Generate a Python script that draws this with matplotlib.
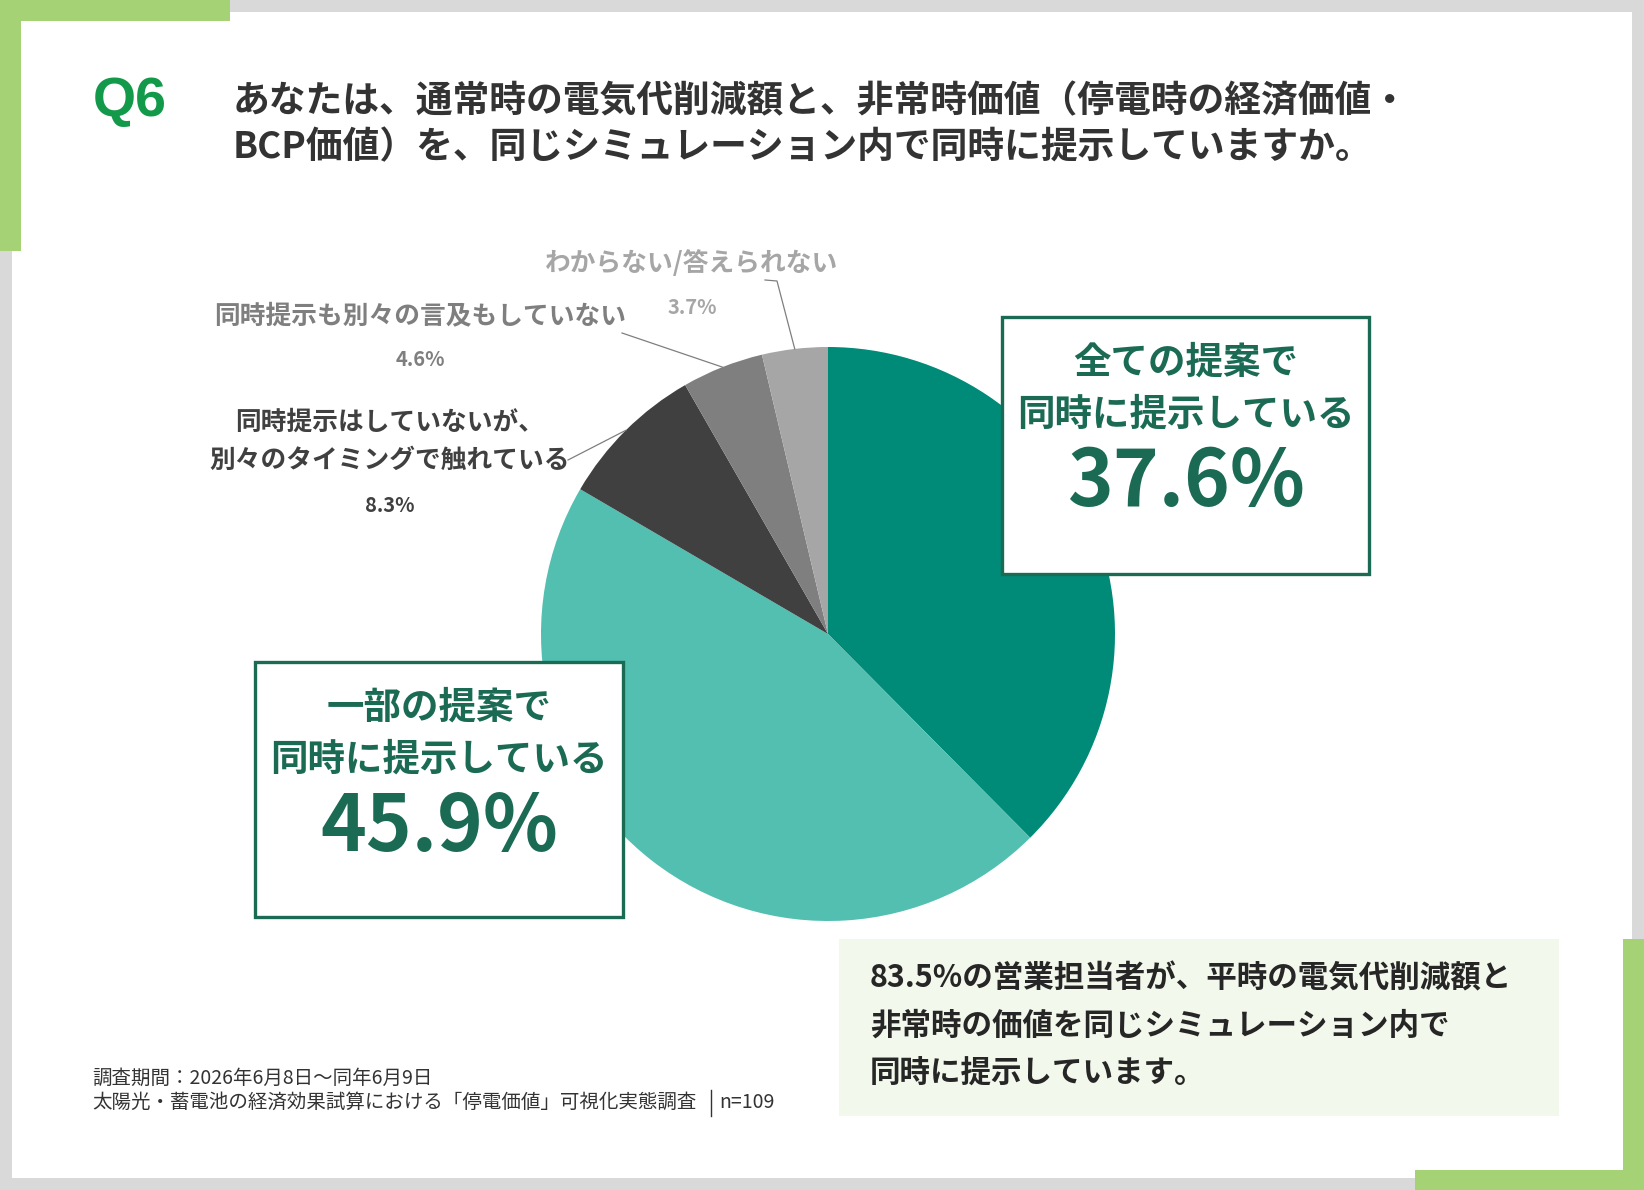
import numpy as np
import matplotlib
matplotlib.use('Agg')
from matplotlib import pyplot as plt
from matplotlib.patches import Rectangle

plt.rcParams['font.family'] = ['Noto Sans CJK JP', 'DejaVu Sans']

# データ（Q6 回答割合, n=109）
labels = ['全ての提案で\n同時に提示している',
          '一部の提案で\n同時に提示している',
          '同時提示はしていないが、\n別々のタイミングで触れている',
          '同時提示も別々の言及もしていない',
          'わからない/答えられない']
values = [37.6, 45.9, 8.3, 4.6, 3.7]
colors = ['#008a78', '#52bfb1', '#404040', '#7f7f7f', '#a6a6a6']

title_q = 'Q6'
title_lines = ['あなたは、通常時の電気代削減額と、非常時価値（停電時の経済価値・',
               'BCP価値）を、同じシミュレーション内で同時に提示していますか。']
summary_lines = ['83.5%の営業担当者が、平時の電気代削減額と',
                 '非常時の価値を同じシミュレーション内で',
                 '同時に提示しています。']
footer_lines = ['調査期間：2026年6月8日～同年6月9日',
                '太陽光・蓄電池の経済効果試算における「停電価値」可視化実態調査']
footer_n = 'n=109'

W, H = 1644, 1190
GREEN = '#a5d274'
DARKGREEN = '#1b6b54'

fig = plt.figure(figsize=(W / 100, H / 100), dpi=100)
fig.patch.set_facecolor('#d9d9d9')

# 背景（白いパネルと緑の飾り）
bg = fig.add_axes([0, 0, 1, 1], zorder=0)
bg.set_xlim(0, W)
bg.set_ylim(H, 0)
bg.axis('off')
bg.add_patch(Rectangle((12, 12), 1620, 1166, color='white', lw=0))
bg.add_patch(Rectangle((0, 0), 230, 21, color=GREEN, lw=0))
bg.add_patch(Rectangle((0, 0), 21, 251, color=GREEN, lw=0))
bg.add_patch(Rectangle((1623, 939), 21, 251, color=GREEN, lw=0))
bg.add_patch(Rectangle((1415, 1170), 229, 20, color=GREEN, lw=0))
# まとめの枠
bg.add_patch(Rectangle((839, 939), 720, 177, color='#f3f8ec', lw=0))

# 円グラフ
cx, cy, r = 828, 634, 287
pie_ax = fig.add_axes([(cx - r) / W, 1 - (cy + r) / H, 2 * r / W, 2 * r / H], zorder=1)
wedges, _ = pie_ax.pie(values, colors=colors, startangle=90, counterclock=False,
                       radius=1, wedgeprops=dict(linewidth=0))
pie_ax.set_xlim(-1, 1)
pie_ax.set_ylim(-1, 1)
pie_ax.axis('off')

# 上に重ねる層（文字・枠・引出線）
ax = fig.add_axes([0, 0, 1, 1], zorder=2)
ax.set_xlim(0, W)
ax.set_ylim(H, 0)
ax.axis('off')

# タイトル
ax.text(93, 102, title_q, color='#12994a', fontsize=40, fontweight='bold',
        family=['Liberation Sans', 'DejaVu Sans'], ha='left', va='center')
ax.text(233, 102, title_lines[0], color='#333333', fontsize=26.5, fontweight='bold',
        ha='left', va='center')
ax.text(233, 148, title_lines[1], color='#333333', fontsize=26.5, fontweight='bold',
        ha='left', va='center')


def rim_point(i):
    '扇形 i の中央角の外周上の点（画素座標）'
    total = sum(values)
    start = 90 - 360 * sum(values[:i]) / total
    mid = np.deg2rad(start - 180 * values[i] / total)
    return cx + r * np.cos(mid), cy - r * np.sin(mid)


# 大きい2つの項目は枠で表示
boxes = [(1002, 317, 367, 257), (255, 662, 368, 255)]
for i, (bx, by, bw, bh) in enumerate(boxes):
    ax.add_patch(Rectangle((bx, by), bw, bh, facecolor='white',
                           edgecolor=DARKGREEN, lw=2.4))
    l1, l2 = labels[i].split('\n')
    mx = bx + bw / 2
    ax.text(mx, by + 45, l1, color=DARKGREEN, fontsize=27, fontweight='bold',
            ha='center', va='center')
    ax.text(mx, by + 97, l2, color=DARKGREEN, fontsize=27, fontweight='bold',
            ha='center', va='center')
    ax.text(mx, by + 166, '%.1f%%' % values[i], color=DARKGREEN, fontsize=56,
            fontweight='bold', ha='center', va='center')

# 小さい項目は外側ラベル + 引出線
# (ラベル行の y, 割合の y, 中心 x, 引出線の始点)
outer = {
    2: ([422, 460], 506, 390, [(568, 460)]),
    3: ([316], 359, 420, [(622, 333)]),
    4: ([263], 307, 692, [(765, 280), (777, 281)]),
}
for i, (ys, py, lx, pts) in outer.items():
    for line, y in zip(labels[i].split('\n'), ys):
        ax.text(lx, y, line, color=colors[i], fontsize=18.5, fontweight='bold',
                ha='center', va='center')
    ax.text(lx, py, '%.1f%%' % values[i], color=colors[i], fontsize=14.5,
            fontweight='bold', ha='center', va='center')
    xs = [p[0] for p in pts] + [rim_point(i)[0]]
    yy = [p[1] for p in pts] + [rim_point(i)[1]]
    ax.plot(xs, yy, color='#7f7f7f', lw=0.9)

# まとめ
for k, line in enumerate(summary_lines):
    ax.text(870, 978 + 48 * k, line, color='#262626', fontsize=22,
            fontweight='bold', ha='left', va='center')

# 注記
ax.text(92, 1078, footer_lines[0], color='#333333', fontsize=14,
        ha='left', va='center')
ax.text(92, 1102, footer_lines[1], color='#333333', fontsize=14,
        ha='left', va='center')
ax.plot([711, 711], [1090, 1116], color='#333333', lw=1)
ax.text(719, 1102, footer_n, color='#333333', fontsize=14,
        ha='left', va='center')

fig.savefig('out.png', dpi=100)
